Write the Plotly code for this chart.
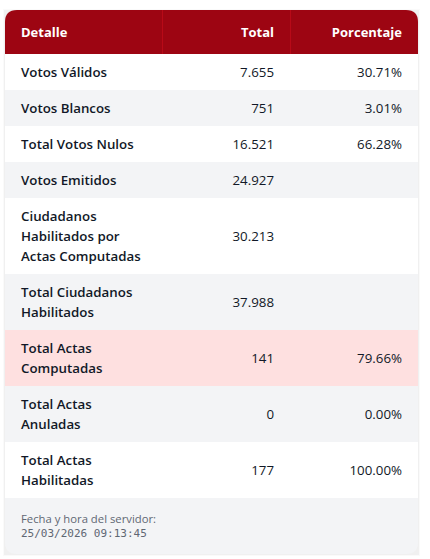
import plotly.graph_objects as go

headers = ["Detalle", "Total", "Porcentaje"]
detalle = [
    "Votos Válidos",
    "Votos Blancos",
    "Total Votos Nulos",
    "Votos Emitidos",
    "Ciudadanos<br>Habilitados por<br>Actas Computadas",
    "Total Ciudadanos<br>Habilitados",
    "Total Actas<br>Computadas",
    "Total Actas<br>Anuladas",
    "Total Actas<br>Habilitadas",
]
total = ["7.655", "751", "16.521", "24.927", "30.213", "37.988", "141", "0", "177"]
porcentaje = ["30.71%", "3.01%", "66.28%", "", "", "", "79.66%", "0.00%", "100.00%"]
footer_label = "Fecha y hora del servidor:"
footer_time = "25/03/2026 09:13:45"

# layout of the card, in pixels
LEFT, RIGHT, TOP = 5, 418, 10
COL1, COL2 = 162, 290
HEADER_H, FOOTER_H = 44, 56
LINE_H = 20
RADIUS = 12
SANS = "Open Sans"
row_fills = ["#ffffff", "#f3f4f6", "#ffffff", "#f3f4f6", "#ffffff", "#f3f4f6", "#fee0e0", "#f3f4f6", "#ffffff"]
TEXT_COLOR = "#111827"

fig = go.Figure()
shapes = []


def rect(x0, y0, x1, y1, fill):
    shapes.append(dict(type="rect", x0=x0, y0=y0, x1=x1, y1=y1, fillcolor=fill, line_width=0, layer="below"))


def text(x, y, s, anchor, size=13.3, weight=400, color=TEXT_COLOR, family=SANS):
    fig.add_trace(go.Scatter(x=[x], y=[y], mode="text", text=[s], textposition="middle " + anchor,
                             textfont=dict(family=family, size=size, weight=weight, color=color),
                             hoverinfo="skip", showlegend=False))


# row tops come from the number of text lines in each row
y = TOP + HEADER_H
rows = []
for label in detalle:
    n = label.count("<br>") + 1
    h = n * LINE_H + 16
    rows.append((y, h))
    y += h
bottom = y + FOOTER_H

# soft card shadow
for grow, col in [(2, "rgba(0,0,0,0.02)"), (1, "rgba(0,0,0,0.04)")]:
    shapes.append(dict(type="rect", x0=LEFT - grow, y0=TOP - grow + 1, x1=RIGHT + grow, y1=bottom + grow,
                       fillcolor=col, line_width=0, layer="below"))

# header with rounded top corners
shapes.append(dict(type="path", layer="below", fillcolor="#9d0512", line_width=0,
                   path=f"M {LEFT} {TOP + HEADER_H} L {LEFT} {TOP + RADIUS} Q {LEFT} {TOP} {LEFT + RADIUS} {TOP} "
                        f"L {RIGHT - RADIUS} {TOP} Q {RIGHT} {TOP} {RIGHT} {TOP + RADIUS} L {RIGHT} {TOP + HEADER_H} Z"))
for cx in [COL1, COL2]:
    rect(cx, TOP, cx + 1, TOP + HEADER_H, "#b80a18")

for (ry, rh), fill in zip(rows, row_fills):
    rect(LEFT, ry, RIGHT, ry + rh, fill)

# footer with rounded bottom corners
shapes.append(dict(type="path", layer="below", fillcolor="#f3f4f6", line_width=0,
                   path=f"M {LEFT} {bottom - FOOTER_H} L {RIGHT} {bottom - FOOTER_H} L {RIGHT} {bottom - RADIUS} "
                        f"Q {RIGHT} {bottom} {RIGHT - RADIUS} {bottom} L {LEFT + RADIUS} {bottom} "
                        f"Q {LEFT} {bottom} {LEFT} {bottom - RADIUS} Z"))

header_y = TOP + HEADER_H / 2 + 2
text(21, header_y, headers[0], "right", size=13, weight=700, color="#ffffff")
text(274, header_y, headers[1], "left", size=13, weight=700, color="#ffffff")
text(402, header_y, headers[2], "left", size=13, weight=700, color="#ffffff")

for (ry, rh), label, t, p in zip(rows, detalle, total, porcentaje):
    for i, part in enumerate(label.split("<br>")):
        text(21, ry + 20 + i * LINE_H, part, "right", weight=600)
    text(274, ry + rh / 2 + 2, t, "left")
    if p:
        text(402, ry + rh / 2 + 2, p, "left")

text(21, bottom - 34, footer_label, "right", size=11.3, color="#5f6773")
text(21, bottom - 20, footer_time, "right", size=11, color="#5f6773", family="DejaVu Sans Mono")

fig.update_layout(
    width=430, height=559, margin=dict(l=0, r=0, t=0, b=0),
    paper_bgcolor="#ffffff", plot_bgcolor="#ffffff", shapes=shapes,
    xaxis=dict(range=[0, 430], visible=False, fixedrange=True),
    yaxis=dict(range=[559, 0], visible=False, fixedrange=True),
)
fig.write_html("out.html", config={"displayModeBar": False}, post_script="document.body.style.margin='0';")
